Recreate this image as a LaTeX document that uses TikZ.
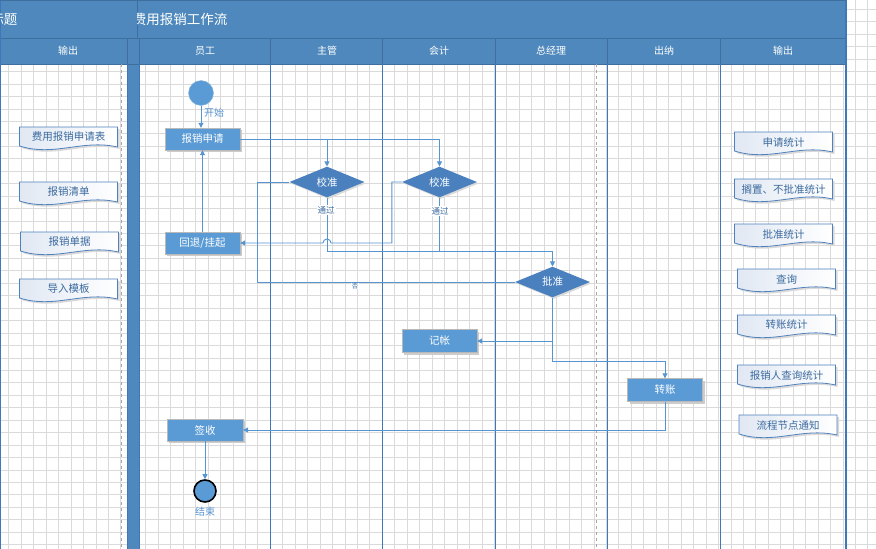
\documentclass[tikz,border=0pt]{standalone}
\usepackage{fontspec}
\setmainfont{Noto Sans CJK SC}
\usetikzlibrary{calc,positioning,shapes.geometric,arrows.meta,shadows}
\definecolor{PoolBlue}{HTML}{4E88BC}
\definecolor{PoolEdge}{HTML}{3D6E9E}
\definecolor{LaneLine}{HTML}{3E78B8}
\definecolor{BoxFill}{HTML}{5B9BD5}
\definecolor{DiaFill}{HTML}{4A80BD}
\definecolor{FlowLine}{HTML}{5794D2}
\definecolor{DocLine}{HTML}{4F81BD}
\definecolor{DocText}{HTML}{3A6A9E}
\definecolor{DocShade}{HTML}{E1E8F3}
\definecolor{GridGray}{HTML}{DADADA}
% 文档形状：上边平直，下边波浪
\newcommand{\docwave}[2]{({#1-49},{#2}) -- ({#1-49},{#2+19}) .. controls ({#1-14},{#2+30}) and ({#1+14},{#2+12}) .. ({#1+49},{#2+20}) -- ({#1+49},{#2}) -- cycle}

\begin{document}
\begin{tikzpicture}[x=1pt, y=-1pt,
  task/.style={rectangle, fill=BoxFill, draw=gray!55, minimum width=75pt, minimum height=22pt, inner sep=0pt,
    text=white, font=\fontsize{10.5}{12}\selectfont,
    copy shadow={shadow xshift=2pt, shadow yshift=-2pt, fill=gray!40, draw=none}},
  check/.style={diamond, fill=DiaFill, minimum width=75pt, minimum height=24pt, inner sep=0pt,
    text=white, font=\fontsize{10.5}{12}\selectfont,
    copy shadow={shadow xshift=1.5pt, shadow yshift=-1.5pt, fill=gray!30, draw=none}},
  flow/.style={draw=FlowLine, line width=0.9pt},
  arr/.style={-{Triangle[length=5pt, width=5pt]}},
  tag/.style={text=FlowLine, font=\fontsize{10}{12}\selectfont, inner sep=1pt},
  pass/.style={text=DocText, fill=white, font=\fontsize{8.5}{10}\selectfont, inner sep=1pt},
  doclabel/.style={text=DocText, font=\fontsize{10.5}{12}\selectfont, inner sep=0pt},
  lanehead/.style={text=white, font=\fontsize{10}{12}\selectfont},
  bigtitle/.style={text=white, font=\fontsize{13.5}{16}\selectfont}]
\useasboundingbox (0,0) rectangle (876,549);
\fill[white] (0,0) rectangle (876,549);
% 背景网格
\foreach \i in {0,...,69}
  \draw[GridGray, line width=0.6pt] ({8.7+\i*12.45},0) -- ({8.7+\i*12.45},549);
\foreach \j in {0,...,43}
  \draw[GridGray, line width=0.6pt] (0,{9.2+\j*12.45}) -- (876,{9.2+\j*12.45});

% 标题栏与泳道头
\fill[PoolBlue] (0,0) rectangle (846,64);
\fill[PoolBlue] (127,38) rectangle (139,549);
\draw[PoolEdge, line width=0.9pt] (0,38) -- (846,38) (0,64) -- (846,64) (137,0) -- (137,38);
\foreach \x in {127,139,270,382,495,607,720}
  \draw[PoolEdge, line width=0.9pt] (\x,38) -- (\x,64);
\foreach \x in {127,139,270,382,495,607,720}
  \draw[LaneLine, line width=1pt] (\x,64) -- (\x,549);
\draw[LaneLine, line width=1.2pt] (0.6,0) -- (0.6,549) (846,0) -- (846,549);
\draw[PoolEdge, line width=0.9pt] (0,0.5) -- (846,0.5);
\draw[gray!70, dashed, line width=0.8pt] (121,64) -- (121,549) (596,64) -- (596,549);

\begin{scope}
  \clip (0,0) rectangle (137,38);
  \node[bigtitle] (title) at (4,19) {标题};
\end{scope}
\begin{scope}
  \clip (137.5,0) rectangle (846,38);
  \node[bigtitle] (flowtitle) at (180,19) {费用报销工作流};
\end{scope}

\foreach \nm/\cx/\txt in {hOutL/68/输出, hStaff/205/员工, hLead/327/主管, hAcct/439/会计, hBoss/551/总经理, hCash/664/出纳, hOutR/783/输出}
  \node[lanehead] (\nm) at (\cx,51) {\txt};

% 输入、输出文档
\foreach \nm/\cx/\ty/\txt in {dForm/68.5/127/费用报销申请表, dList/68.5/182/报销清单, dBill/69.5/232/报销单据, dTpl/68.5/279/导入模板,
  sApply/783.5/132/申请统计, sHold/783.5/179/搁置、不批准统计, sPass/783.5/224/批准统计, sQuery/786.5/269/查询,
  sPay/786.5/315/转账统计, sUser/786.5/365/报销人查询统计, sNote/788/415/流程节点通知} {
  \fill[gray!30] \docwave{\cx+2}{\ty+2};
  \path[draw=DocLine, line width=0.8pt, left color=DocShade, right color=white] \docwave{\cx}{\ty};
  \node[doclabel] (\nm) at (\cx,\ty+10) {\txt};
}

% 流程节点
\node[circle, fill=BoxFill, draw=BoxFill!70!white, minimum size=25pt, inner sep=0pt] (start) at (201,93) {};
\node[tag] (startlbl) at (214,113) {开始};
\node[task] (apply) at (202.5,139) {报销申请};
\node[task] (back) at (202.5,243) {回退/挂起};
\node[check] (check1) at (327,182) {校准};
\node[check] (check2) at (439.5,182) {校准};
\node[check] (approve) at (552.5,282) {批准};
\node[task, minimum height=23pt] (book) at (439.5,341) {记帐};
\node[task, minimum height=23pt] (transfer) at (665,390) {转账};
\node[task, minimum width=76pt] (sign) at (205,430) {签收};
\node[circle, fill=BoxFill, draw=black, line width=1.6pt, minimum size=22pt, inner sep=0pt] (end) at (205,491) {};
\node[tag] (endlbl) at (205,512) {结束};

\coordinate (merge) at (327,251);
\coordinate (split) at (552.5,361);
\coordinate (hop) at (327,243);

% 连线
\draw[flow, arr] (start.south) -- (start.south |- apply.north);
\draw[flow, arr] (back.north) -- (apply.south);
\draw[flow, arr] (apply.east) -| (check2.north);
\draw[flow, arr] (check1.north |- apply.east) -- (check1.north);
\draw[flow, arr] (check2.west) -- ++(-10,0) |- ([xshift=4pt]hop) arc[start angle=0, end angle=180, radius=4pt] -- (back.east);
\draw[flow, arr] (check1.south) -- (merge) -| (approve.north);
\draw[flow] (check2.south) -- (check2.south |- merge);
\node[pass] (pass1) at (326,210) {通过};
\node[pass] (pass2) at (440,211) {通过};
\draw[flow] (check1.west) -- ++(-32,0) |- (approve.west);
\node[pass, font=\fontsize{6.5}{7}\selectfont, inner sep=0.3pt] (deny) at (355,286) {否};
\draw[flow, arr] (approve.south) |- (book.east);
\draw[flow, arr] (approve.south) -- (split) -| (transfer.north);
\draw[flow, arr] (transfer.south) |- (sign.east);
\draw[flow, arr] (sign.south) -- (end.north);
\end{tikzpicture}
\end{document}
